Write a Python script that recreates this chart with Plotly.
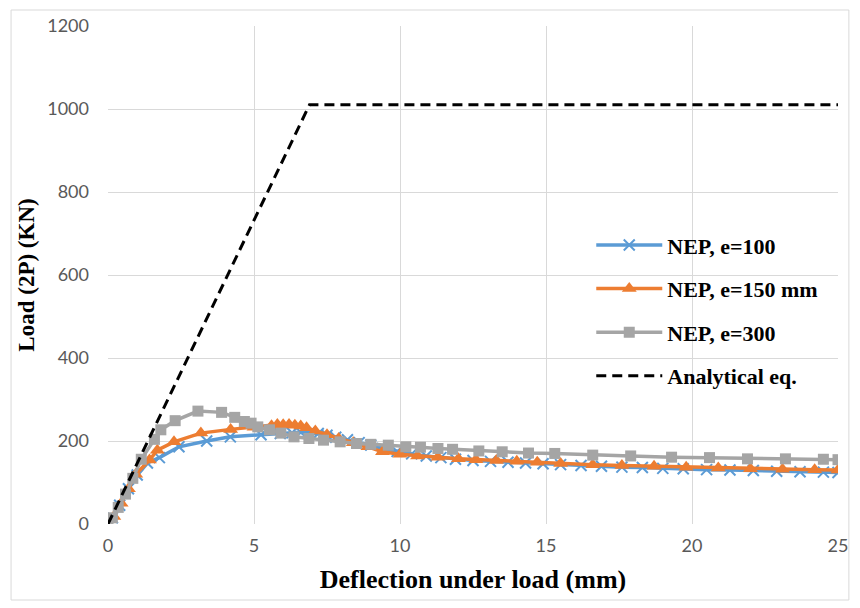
import plotly.graph_objects as go

# ---- data ----
d_e100 = [0, 0.15, 0.4, 0.7, 1.0, 1.35, 1.76, 2.43, 3.38, 4.19, 5.24, 5.9, 6.3, 6.6, 6.9, 7.2, 7.5, 7.8,
          8.2, 8.6, 9.0, 9.4, 9.9, 10.4, 10.9, 11.4, 11.9, 12.5, 13.1, 13.7, 14.3, 14.9, 15.5, 16.2,
          16.9, 17.6, 18.3, 19.0, 19.7, 20.5, 21.3, 22.1, 22.9, 23.7, 24.5, 25.0]
L_e100 = [0, 15, 45, 85, 118, 147, 160, 186, 200, 210, 215, 218, 220, 221, 220, 218, 214, 209,
          203, 196, 190, 182, 175, 169, 164, 160, 156, 153, 151, 149, 147, 145, 143, 141,
          139, 137, 136, 134, 133, 131, 130, 129, 127, 126, 125, 124]

d_e150 = [0, 0.2, 0.45, 0.7, 0.95, 1.42, 1.69, 2.26, 3.18, 4.2, 5.0, 5.6, 5.8, 6.0, 6.2, 6.4, 6.6, 6.8,
          7.1, 7.5, 7.9, 8.4, 8.9, 9.4, 10.0, 10.6, 11.3, 12.0, 12.6, 13.3, 14.0, 14.7, 15.5, 16.6,
          17.6, 18.7, 19.8, 20.9, 22.0, 23.1, 24.2, 25.0]
L_e150 = [0, 18, 50, 85, 120, 154, 178, 198, 219, 228, 233, 237, 240, 239, 240, 238, 236, 232,
          224, 215, 206, 196, 186, 174, 168, 164, 161, 157, 155, 153, 151, 149, 146, 143,
          141, 139, 137, 135, 133, 132, 131, 130]

d_e300 = [0, 0.15, 0.35, 0.6, 0.85, 1.14, 1.59, 1.81, 2.3, 3.08, 3.89, 4.34, 4.67, 4.9, 5.13, 5.53,
          5.92, 6.37, 6.88, 7.38, 7.95, 8.51, 9.0, 9.6, 10.2, 10.7, 11.3, 11.8, 12.7, 13.5, 14.4,
          15.3, 16.6, 17.9, 19.3, 20.6, 21.9, 23.2, 24.5, 25.0]
L_e300 = [0, 15, 40, 72, 110, 156, 204, 227, 249, 272, 269, 257, 247, 243, 234, 227,
          219, 210, 206, 202, 198, 194, 192, 190, 186, 185, 182, 180, 176, 174, 171,
          170, 166, 164, 161, 160, 157, 157, 156, 155]

d_analytical = [0, 6.9, 25]
L_analytical = [0, 1010, 1010]

x_ticks = [0, 5, 10, 15, 20, 25]
y_ticks = [0, 200, 400, 600, 800, 1000, 1200]

names = ["NEP, e=100", "NEP, e=150 mm", "NEP, e=300", "Analytical eq."]

# ---- figure ----
fig = go.Figure()
fig.add_trace(go.Scatter(
    x=d_e100, y=L_e100, mode="lines+markers", name=names[0], legendgroup="a",
    line=dict(color="#5B9BD5", width=3.5),
    marker=dict(symbol="x-thin", size=11, line=dict(color="#5B9BD5", width=2), color="#5B9BD5")))
fig.add_trace(go.Scatter(
    x=d_e150, y=L_e150, mode="lines+markers", name=names[1], legendgroup="b",
    line=dict(color="#ED7D31", width=3.5),
    marker=dict(symbol="triangle-up", size=13, color="#ED7D31")))
fig.add_trace(go.Scatter(
    x=d_e300, y=L_e300, mode="lines+markers", name=names[2], legendgroup="c",
    line=dict(color="#A5A5A5", width=3.5),
    marker=dict(symbol="square", size=11, color="#A5A5A5")))
fig.add_trace(go.Scatter(
    x=d_analytical, y=L_analytical, mode="lines", name=names[3], legendgroup="d",
    line=dict(color="#000000", width=3, dash="10px,6px")))

tickfont = dict(family="Lato, Carlito, Calibri, sans-serif", size=18, color="#595959")
xtitlefont = dict(family="Liberation Serif, Times New Roman, serif", size=26, color="#000000",
                  weight="bold")
ytitlefont = dict(family="Liberation Serif, Times New Roman, serif", size=23, color="#000000",
                  weight="bold")

fig.update_layout(
    width=860, height=608,
    margin=dict(l=108, r=14, t=26, b=84),
    paper_bgcolor="white", plot_bgcolor="white",
    showlegend=True,
    legend=dict(x=0.662, y=0.602, xanchor="left", yanchor="top",
                bgcolor="rgba(0,0,0,0)", itemwidth=66, tracegroupgap=12,
                font=dict(family="Liberation Serif, Times New Roman, serif", size=22,
                          color="#000000", weight="bold"),
                traceorder="grouped"),
    xaxis=dict(range=[0, 25], tickvals=x_ticks, showgrid=True, gridcolor="#D9D9D9", gridwidth=1.3,
               zeroline=False, showline=False, tickfont=tickfont, ticklabelstandoff=9,
               title=dict(text="Deflection under load (mm)", font=xtitlefont, standoff=14)),
    yaxis=dict(range=[0, 1200], tickvals=y_ticks, showgrid=True, gridcolor="#D9D9D9", gridwidth=1.3,
               zeroline=False, showline=False, tickfont=tickfont, ticklabelstandoff=18,
               title=dict(text="Load (2P) (KN)", font=ytitlefont, standoff=6)),
    shapes=[dict(type="rect", xref="paper", yref="paper",
                 x0=(10 - 108) / 738, x1=(857 - 108) / 738,
                 y0=(524 - 600) / 498, y1=(524 - 10) / 498,
                 line=dict(color="#D9D9D9", width=1), layer="below")],
)

fig.write_html("out.html", config={"displayModeBar": False},
               post_script="document.body.style.margin='0';")
